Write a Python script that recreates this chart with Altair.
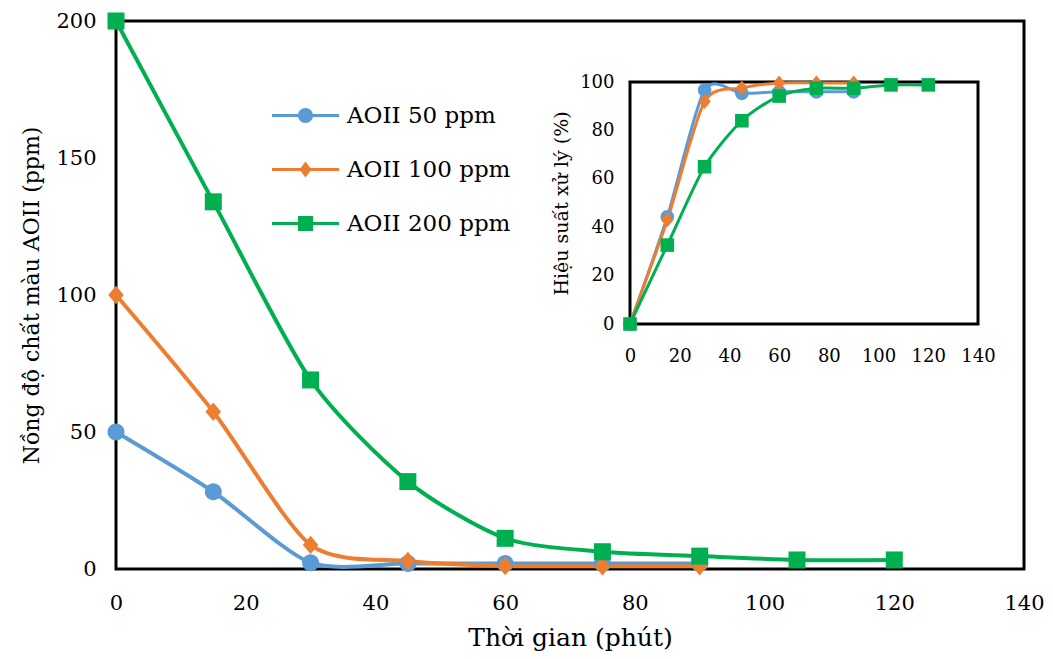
import altair as alt
import pandas as pd

FONT = "DejaVu Serif"

# ---------------- data ----------------
series_names = ["AOII 50 ppm", "AOII 100 ppm", "AOII 200 ppm"]
colors = ["#5B9BD5", "#ED7D31", "#00B050"]

t_50 = [0, 15, 30, 45, 60, 75, 90]
conc_50 = [50, 28.2, 2.3, 2.0, 2.0, 2.0, 2.0]
eff_50 = [0, 44.3, 96.7, 95.3, 96.0, 96.0, 96.0]

t_100 = [0, 15, 30, 45, 60, 75, 90]
conc_100 = [100, 57.4, 8.8, 2.9, 1.1, 1.0, 1.0]
eff_100 = [0, 43.0, 91.9, 97.5, 99.6, 99.6, 99.6]

t_200 = [0, 15, 30, 45, 60, 75, 90, 105, 120]
conc_200 = [200, 134, 69, 31.9, 11.2, 6.3, 4.7, 3.3, 3.3]
eff_200 = [0, 32.6, 65.0, 84.0, 94.2, 97.4, 97.4, 98.8, 98.8]

main_x_ticks = [0, 20, 40, 60, 80, 100, 120, 140]
main_y_ticks = [0, 50, 100, 150, 200]
inset_x_ticks = [0, 20, 40, 60, 80, 100, 120, 140]
inset_y_ticks = [0, 20, 40, 60, 80, 100]

x_title = "Thời gian (phút)"
y_title = "Nồng độ chất màu AOII (ppm)"
inset_y_title = "Hiệu suất xử lý (%)"

rows = []
for name, ts, cs, es in [
    (series_names[0], t_50, conc_50, eff_50),
    (series_names[1], t_100, conc_100, eff_100),
    (series_names[2], t_200, conc_200, eff_200),
]:
    for t, c, e in zip(ts, cs, es):
        rows.append({"series": name, "t": t, "conc": c, "eff": e})
df = pd.DataFrame(rows)

frame_df = pd.DataFrame({"x0": [0], "x1": [140], "y0": [0], "y1": [100]})

# marker shapes (custom paths, scaled by sqrt(size)/2)
marker_paths = [
    "M0.85,0A0.85,0.85,0,1,1,-0.85,0A0.85,0.85,0,1,1,0.85,0Z",
    "M0,-0.92L0.78,0L0,0.92L-0.78,0Z",
    "M-0.85,-0.85H0.85V0.85H-0.85Z",
]
bar = "M-3.35,-0.16H3.35V0.16H-3.35Z "
legend_paths = [
    bar + "M0.75,0A0.75,0.75,0,1,1,-0.75,0A0.75,0.75,0,1,1,0.75,0Z",
    bar + "M0,-0.8L0.6,0L0,0.8L-0.6,0Z",
    bar + "M-0.75,-0.75H0.75V0.75H-0.75Z",
]

W, H = 908, 548
INSET_X = [514, 862]
INSET_Y = [303, 61]
TENSION = 0.25

color_scale = alt.Scale(domain=series_names, range=colors)
shape_scale = alt.Scale(domain=series_names, range=marker_paths)
legend_shape_scale = alt.Scale(domain=series_names, range=legend_paths)

main_xs = alt.Scale(domain=[0, 140], nice=False, zero=False)
main_ys = alt.Scale(domain=[0, 200], nice=False)
inset_xs = alt.Scale(domain=[0, 140], nice=False, zero=False, range=INSET_X)
inset_ys = alt.Scale(domain=[0, 100], nice=False, range=INSET_Y)

axis_common = dict(
    labelFont=FONT, labelColor="black", titleFont=FONT, titleColor="black",
    titleFontWeight="normal", ticks=False, tickSize=0, domain=False, grid=False,
    labelFlush=False, labelOverlap=False,
)

main_x_axis = alt.Axis(orient="bottom", values=main_x_ticks, labelFontSize=21,
                       labelPadding=23, title=x_title, titleFontSize=25,
                       titlePadding=12, **axis_common)
main_y_axis = alt.Axis(orient="left", values=main_y_ticks, labelFontSize=21,
                       labelPadding=20, title=y_title, titleFontSize=22,
                       titlePadding=12, **axis_common)
inset_x_axis = alt.Axis(orient="bottom", values=inset_x_ticks, labelFontSize=18,
                        labelPadding=23, title=None, offset=INSET_Y[0] - H,
                        **axis_common)
inset_y_axis = alt.Axis(orient="left", values=inset_y_ticks, labelFontSize=18,
                        labelPadding=16, title=inset_y_title, titleFontSize=19,
                        titlePadding=8, offset=-INSET_X[0], **axis_common)

base = alt.Chart(df)

main_lines = base.mark_line(interpolate="cardinal", tension=TENSION, strokeWidth=4).encode(
    x=alt.X("t:Q", scale=main_xs, axis=main_x_axis),
    y=alt.Y("conc:Q", scale=main_ys, axis=main_y_axis),
    color=alt.Color("series:N", scale=color_scale, legend=None),
    detail="series:N",
)
main_points = base.mark_point(filled=True, size=400, opacity=1, strokeWidth=0).encode(
    x=alt.X("t:Q", scale=main_xs, axis=None),
    y=alt.Y("conc:Q", scale=main_ys, axis=None),
    color=alt.Color("series:N", scale=color_scale, legend=None),
    shape=alt.Shape("series:N", scale=shape_scale, legend=None),
)

leg = alt.Legend(title=None, orient="none", legendX=178, legendY=83,
                 labelFont=FONT, labelFontSize=23, labelColor="black", labelLimit=0,
                 symbolSize=400, symbolStrokeWidth=0, symbolOpacity=1,
                 rowPadding=30, labelOffset=30)
legend_layer = base.mark_point(filled=True, opacity=1, strokeWidth=0).encode(
    x=alt.X("t:Q", scale=main_xs, axis=None),
    y=alt.Y("conc:Q", scale=main_ys, axis=None),
    color=alt.Color("series:N", scale=color_scale, legend=leg),
    shape=alt.Shape("series:N", scale=legend_shape_scale, legend=leg),
).transform_filter(alt.datum.t < 0)

inset_frame = alt.Chart(frame_df).mark_rect(fill="white", stroke="black", strokeWidth=3).encode(
    x=alt.X("x0:Q", scale=inset_xs, axis=inset_x_axis),
    x2="x1:Q",
    y=alt.Y("y0:Q", scale=inset_ys, axis=inset_y_axis),
    y2="y1:Q",
)
inset_lines = base.mark_line(interpolate="cardinal", tension=TENSION, strokeWidth=3).encode(
    x=alt.X("t:Q", scale=inset_xs, axis=None),
    y=alt.Y("eff:Q", scale=inset_ys, axis=None),
    color=alt.Color("series:N", scale=color_scale, legend=None),
    detail="series:N",
)
inset_points = base.mark_point(filled=True, size=256, opacity=1, strokeWidth=0).encode(
    x=alt.X("t:Q", scale=inset_xs, axis=None),
    y=alt.Y("eff:Q", scale=inset_ys, axis=None),
    color=alt.Color("series:N", scale=color_scale, legend=None),
    shape=alt.Shape("series:N", scale=shape_scale, legend=None),
)

chart = alt.layer(
    main_lines, main_points, legend_layer, inset_frame, inset_lines, inset_points
).resolve_scale(
    x="independent", y="independent", color="independent", shape="independent"
).properties(
    width=W, height=H,
    autosize=alt.AutoSizeParams(type="none"),
    padding={"left": 108, "top": 13, "right": 21, "bottom": 86},
).configure_view(stroke="black", strokeWidth=3)

chart.save("out.html", embed_options={"renderer": "svg", "actions": False})
